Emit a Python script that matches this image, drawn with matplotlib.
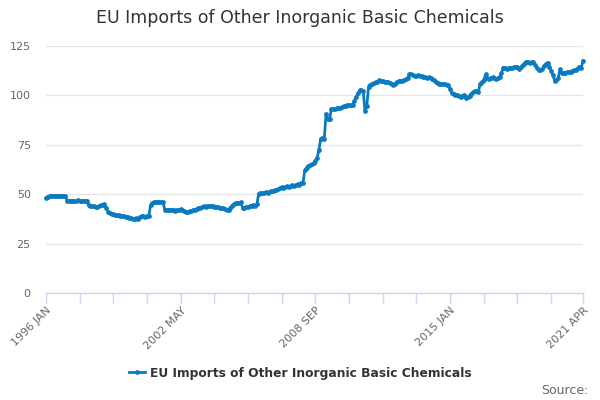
import matplotlib
matplotlib.use("Agg")
import matplotlib.pyplot as plt

TITLE = "EU Imports of Other Inorganic Basic Chemicals"
SERIES = "EU Imports of Other Inorganic Basic Chemicals"

# monthly values, 1996 JAN .. 2021 APR (one row per year)
values = [
    48.2, 48.8, 49.1, 49.2, 49.2, 49.3, 49.2, 49.1, 49.2, 49.3, 49.2, 49.1,
    46.7, 46.6, 46.8, 46.5, 46.4, 46.6, 46.9, 46.7, 46.5, 46.6, 46.8, 46.6,
    44.3, 44.2, 44.0, 43.8, 43.7, 43.5, 43.9, 44.3, 44.6, 45.0, 43.2, 41.2,
    40.5, 40.1, 39.8, 39.6, 39.5, 39.4, 39.2, 39.0, 38.9, 38.7, 38.4, 38.0,
    37.8, 37.7, 37.6, 37.8, 37.7, 38.6, 38.9, 38.8, 38.7, 38.9, 38.8, 44.5,
    45.4, 46.0, 46.2, 45.9, 45.8, 45.9, 46.1, 42.2, 42.0, 41.8, 42.1, 41.9,
    42.0, 41.7, 42.1, 41.8, 42.3, 41.9, 41.5, 41.2, 41.0, 41.3, 41.6, 42.0,
    42.2, 42.5, 42.9, 43.2, 43.5, 43.8, 43.7, 44.0, 44.1, 43.9, 43.8, 43.7,
    43.6, 43.4, 43.2, 43.0, 42.8, 42.5, 42.2, 42.0, 43.0, 44.2, 45.0, 45.6,
    45.7, 45.5, 45.8, 42.9, 43.2, 43.4, 43.7, 43.9, 44.2, 44.5, 44.2, 44.8,
    50.3, 50.6, 50.4, 50.8, 51.0, 50.7, 51.2, 51.5, 51.8, 52.0, 52.3, 52.5,
    53.1, 53.4, 52.9, 53.5, 53.9, 53.7, 54.2, 54.6, 54.3, 54.8, 55.1, 54.9,
    55.5, 55.7, 62.0, 63.5, 64.2, 64.8, 65.1, 65.6, 67.0, 68.5, 72.4, 78.1,
    78.3, 78.0, 90.6, 88.0, 87.9, 92.9, 93.1, 93.3, 93.5, 93.6, 93.8, 94.1,
    94.4, 94.8, 95.1, 95.0, 94.9, 95.2, 97.0, 99.2, 101.1, 102.5, 102.6, 102.1,
    91.9, 94.5, 104.5, 105.5, 105.9, 106.3, 106.6, 107.0, 107.7, 107.4, 107.1, 106.8,
    106.9, 106.6, 106.2, 105.8, 105.3, 105.9, 107.0, 107.2, 107.5, 107.4, 107.8, 108.2,
    108.8, 110.6, 110.9, 110.2, 109.6, 109.8, 110.3, 110.0, 109.6, 109.5, 109.2, 109.0,
    109.1, 108.9, 108.4, 107.8, 106.9, 106.1, 105.8, 105.6, 105.7, 105.6, 105.5, 105.3,
    103.0, 101.2, 100.6, 100.2, 100.3, 99.6, 99.3, 99.5, 100.2, 98.6, 99.0, 99.8,
    100.7, 101.5, 102.4, 102.0, 101.8, 106.0, 106.8, 107.6, 110.6, 108.8, 108.1, 109.0,
    109.1, 108.6, 108.1, 108.9, 109.5, 111.2, 114.0, 113.8, 113.6, 113.9, 113.7, 114.1,
    114.3, 114.5, 114.2, 113.2, 114.2, 115.4, 116.2, 117.1, 116.8, 116.6, 116.9, 117.1,
    115.4, 114.0, 112.9, 113.0, 113.2, 114.9, 115.8, 116.6, 114.5, 112.5, 110.3, 107.5,
    107.8, 108.6, 113.2, 111.2, 111.3, 111.5, 111.6, 111.8, 112.0, 112.5, 112.7, 112.9,
    113.7, 114.5, 113.9, 117.6,
]

month_names = ["JAN", "FEB", "MAR", "APR", "MAY", "JUN",
               "JUL", "AUG", "SEP", "OCT", "NOV", "DEC"]
labels = ["%d %s" % (1996 + i // 12, month_names[i % 12]) for i in range(len(values))]

label_idx = [0, 76, 152, 228, 303]
tick_idx = list(range(0, len(values), 19)) + [len(values) - 1]
y_ticks = [0, 25, 50, 75, 100, 125]

BLUE = "#0b7bc1"
GRID = "#e6e6e6"
AXIS = "#ccd6eb"
TEXT = "#333333"
LABEL = "#666666"

plt.rcParams["font.family"] = ["DejaVu Sans"]

fig = plt.figure(figsize=(6, 4), dpi=100)
ax = fig.add_axes([46 / 600, 1 - 293 / 400, 537 / 600, 247 / 400])

x = list(range(len(values)))
ax.plot(x, values, color=BLUE, linewidth=2, marker="o", markersize=2.4,
        clip_on=False, zorder=3, label=SERIES)

ax.set_xlim(0, len(values) - 1)
ax.set_ylim(0, 125)
ax.set_yticks(y_ticks)
ax.set_yticklabels([str(v) for v in y_ticks])
ax.yaxis.grid(True, color=GRID, linewidth=1)
ax.set_axisbelow(True)

ax.set_xticks(tick_idx)
ax.set_xticklabels([labels[i] if i in label_idx else "" for i in tick_idx],
                   rotation=45, ha="right", rotation_mode="anchor")

for side in ["top", "right", "left"]:
    ax.spines[side].set_visible(False)
ax.spines["bottom"].set_color(AXIS)
ax.spines["bottom"].set_linewidth(1)

ax.tick_params(axis="x", colors=AXIS, length=7, width=1, pad=2,
               labelcolor=LABEL, labelsize=8)
ax.tick_params(axis="y", length=0, pad=11, labelcolor=LABEL, labelsize=8)

fig.text(0.5, 1 - 18 / 400, TITLE, ha="center", va="center",
         fontsize=12.5, color=TEXT)

leg = fig.legend(loc="center", bbox_to_anchor=(0.5, 1 - 373 / 400),
                 frameon=False, handlelength=1.3, handletextpad=0.4,
                 prop={"size": 8.8, "weight": "bold"})
for t in leg.get_texts():
    t.set_color(TEXT)

fig.text(1 - 11 / 600, 1 - 390 / 400, "Source:", ha="right", va="center",
         fontsize=9, color=LABEL)

fig.savefig("out.png", dpi=100)
